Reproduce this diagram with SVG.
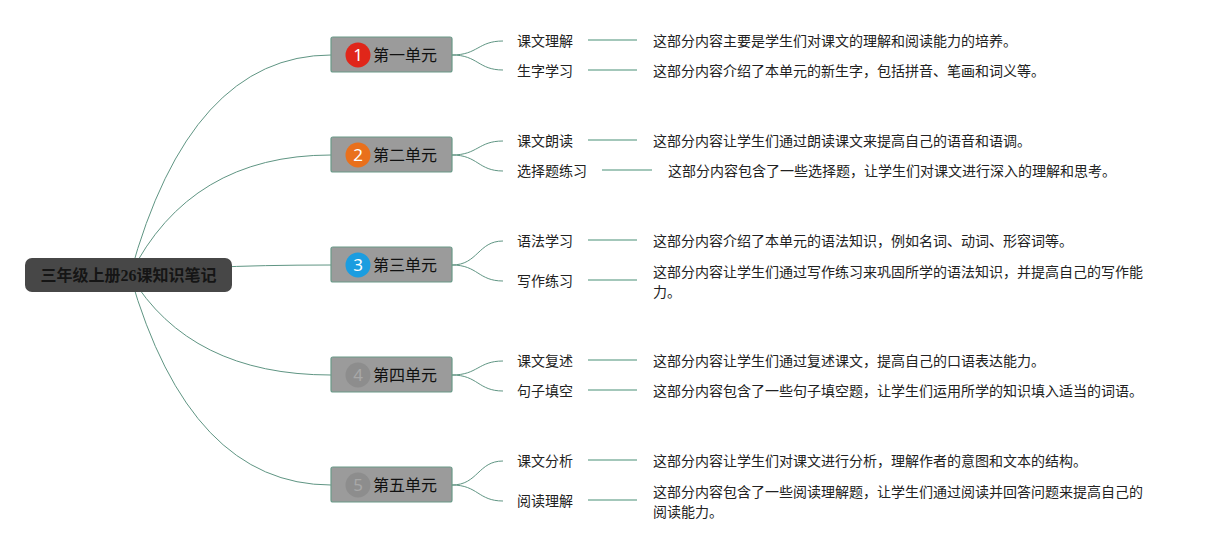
<svg xmlns="http://www.w3.org/2000/svg" width="1213" height="550" viewBox="0 0 1213 550">
<style>
.bg{fill:#ffffff}
.conn{fill:none;stroke:#5f9583;stroke-width:1}
.lead{fill:none;stroke:#a3c7ba;stroke-width:2}
.root{fill:#474747}
.roott{font-family:"Liberation Serif","Noto Sans CJK SC",serif;font-size:16px;font-weight:bold;fill:#151515;text-anchor:middle}
.unit{fill:#9b9b9b;stroke:#6a9a88;stroke-width:1.2}
.unitt{font-family:"Noto Sans CJK SC",sans-serif;font-size:16px;fill:#111}
.num{font-family:"Noto Sans","Liberation Sans",sans-serif;font-size:17px;fill:#fff;text-anchor:middle}
.numg{font-family:"Noto Sans","Liberation Sans",sans-serif;font-size:17px;fill:#a8a8a8;text-anchor:middle}
.lbl{font-family:"Noto Sans CJK SC",sans-serif;font-size:14px;fill:#222}
.desc{font-family:"Noto Sans CJK SC",sans-serif;font-size:14px;fill:#222}
</style>
<rect class="bg" x="0" y="0" width="1213" height="550"/>
<g id="connectors">
<path class="conn" d="M130 275 Q190 55 331 55"/>
<path class="conn" d="M130 275 Q190 155 331 155"/>
<path class="conn" d="M130 275 Q190 265 331 265"/>
<path class="conn" d="M130 275 Q190 375 331 375"/>
<path class="conn" d="M130 275 Q190 485 331 485"/>
<path class="conn" d="M452 55 C478 55 478 41 503 41"/>
<path class="conn" d="M452 55 C478 55 478 70 503 70"/>
<path class="conn" d="M452 155 C478 155 478 141 503 141"/>
<path class="conn" d="M452 155 C478 155 478 171 503 171"/>
<path class="conn" d="M452 265 C478 265 478 241 503 241"/>
<path class="conn" d="M452 265 C478 265 478 281 503 281"/>
<path class="conn" d="M452 375 C478 375 478 361 503 361"/>
<path class="conn" d="M452 375 C478 375 478 391 503 391"/>
<path class="conn" d="M452 485 C478 485 478 461 503 461"/>
<path class="conn" d="M452 485 C478 485 478 501 503 501"/>
<path class="lead" d="M588 40 H637"/>
<path class="lead" d="M588 70 H637"/>
<path class="lead" d="M588 140 H637"/>
<path class="lead" d="M602 170 H652"/>
<path class="lead" d="M588 240 H637"/>
<path class="lead" d="M588 280 H637"/>
<path class="lead" d="M588 360 H637"/>
<path class="lead" d="M588 390 H637"/>
<path class="lead" d="M588 460 H637"/>
<path class="lead" d="M588 500 H637"/>
</g>
<g id="root">
<rect class="root" x="25" y="258" width="207" height="34" rx="7"/>
<text class="roott" x="128.5" y="281">三年级上册26课知识笔记</text>
</g>
<g id="unit1">
<rect class="unit" x="331" y="37" width="121" height="35" rx="2"/>
<circle cx="358" cy="55" r="12.5" fill="#e0261a"/>
<text class="num" x="358" y="61">1</text>
<text class="unitt" x="373" y="61">第一单元</text>
</g>
<g id="unit2">
<rect class="unit" x="331" y="137" width="121" height="35" rx="2"/>
<circle cx="358" cy="155" r="12.5" fill="#e9701c"/>
<text class="num" x="358" y="161">2</text>
<text class="unitt" x="373" y="161">第二单元</text>
</g>
<g id="unit3">
<rect class="unit" x="331" y="247" width="121" height="35" rx="2"/>
<circle cx="358" cy="265" r="12.5" fill="#1b9de0"/>
<text class="num" x="358" y="271">3</text>
<text class="unitt" x="373" y="271">第三单元</text>
</g>
<g id="unit4">
<rect class="unit" x="331" y="357" width="121" height="35" rx="2"/>
<circle cx="358" cy="375" r="12.5" fill="#8d8d8d"/>
<text class="numg" x="358" y="381">4</text>
<text class="unitt" x="373" y="381">第四单元</text>
</g>
<g id="unit5">
<rect class="unit" x="331" y="467" width="121" height="35" rx="2"/>
<circle cx="358" cy="485" r="12.5" fill="#8d8d8d"/>
<text class="numg" x="358" y="491">5</text>
<text class="unitt" x="373" y="491">第五单元</text>
</g>
<g id="u1c1"><text class="lbl" x="517" y="46">课文理解</text></g>
<g id="u1d1"><text class="desc" x="653" y="46">这部分内容主要是学生们对课文的理解和阅读能力的培养。</text></g>
<g id="u1c2"><text class="lbl" x="517" y="76">生字学习</text></g>
<g id="u1d2"><text class="desc" x="653" y="76">这部分内容介绍了本单元的新生字，包括拼音、笔画和词义等。</text></g>
<g id="u2c1"><text class="lbl" x="517" y="146">课文朗读</text></g>
<g id="u2d1"><text class="desc" x="653" y="146">这部分内容让学生们通过朗读课文来提高自己的语音和语调。</text></g>
<g id="u2c2"><text class="lbl" x="517" y="176">选择题练习</text></g>
<g id="u2d2"><text class="desc" x="668" y="176">这部分内容包含了一些选择题，让学生们对课文进行深入的理解和思考。</text></g>
<g id="u3c1"><text class="lbl" x="517" y="246">语法学习</text></g>
<g id="u3d1"><text class="desc" x="653" y="246">这部分内容介绍了本单元的语法知识，例如名词、动词、形容词等。</text></g>
<g id="u3c2"><text class="lbl" x="517" y="286">写作练习</text></g>
<g id="u3d2"><text class="desc" x="653" y="277">这部分内容让学生们通过写作练习来巩固所学的语法知识，并提高自己的写作能</text><text class="desc" x="653" y="297">力。</text></g>
<g id="u4c1"><text class="lbl" x="517" y="366">课文复述</text></g>
<g id="u4d1"><text class="desc" x="653" y="366">这部分内容让学生们通过复述课文，提高自己的口语表达能力。</text></g>
<g id="u4c2"><text class="lbl" x="517" y="396">句子填空</text></g>
<g id="u4d2"><text class="desc" x="653" y="396">这部分内容包含了一些句子填空题，让学生们运用所学的知识填入适当的词语。</text></g>
<g id="u5c1"><text class="lbl" x="517" y="466">课文分析</text></g>
<g id="u5d1"><text class="desc" x="653" y="466">这部分内容让学生们对课文进行分析，理解作者的意图和文本的结构。</text></g>
<g id="u5c2"><text class="lbl" x="517" y="506">阅读理解</text></g>
<g id="u5d2"><text class="desc" x="653" y="497">这部分内容包含了一些阅读理解题，让学生们通过阅读并回答问题来提高自己的</text><text class="desc" x="653" y="517">阅读能力。</text></g>
</svg>
